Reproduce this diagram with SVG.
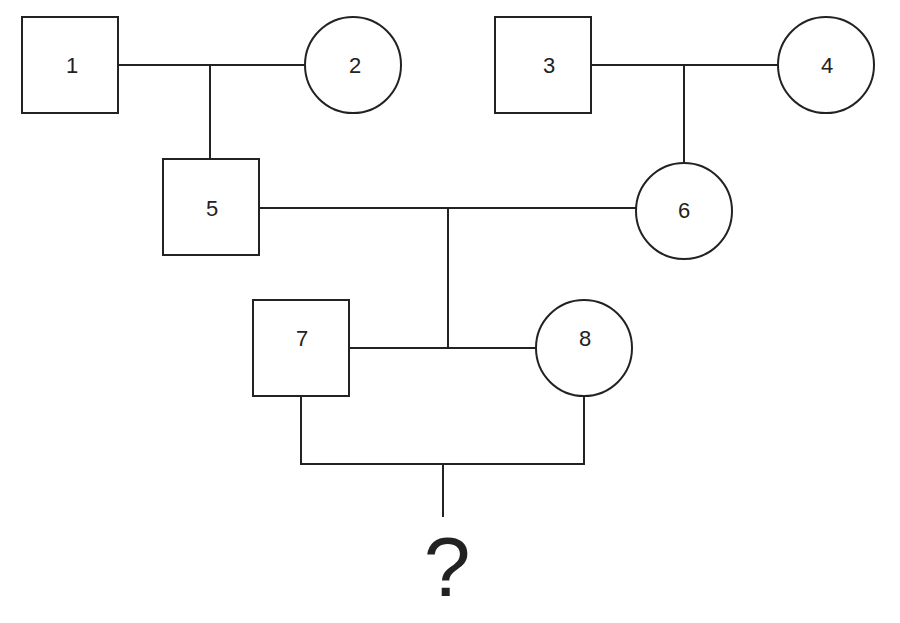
<svg xmlns="http://www.w3.org/2000/svg" width="900" height="623" viewBox="0 0 900 623">
<style>
.s{fill:#fff;stroke:#222;stroke-width:2}
.t{font-family:"Liberation Sans",Arial,sans-serif;font-size:22px;fill:#222;text-anchor:middle}
#c line{stroke:#222;stroke-width:2}
</style>
<rect width="900" height="623" fill="#fff"/>
<g id="c">
<line x1="118" y1="65" x2="305" y2="65"/><line x1="210" y1="65" x2="210" y2="159"/>
<line x1="591" y1="65" x2="778" y2="65"/><line x1="684" y1="65" x2="684" y2="163"/>
<line x1="259" y1="208" x2="636" y2="208"/><line x1="448" y1="208" x2="448" y2="348"/>
<line x1="349" y1="348" x2="536" y2="348"/>
<line x1="301" y1="396" x2="301" y2="464"/><line x1="584" y1="396" x2="584" y2="464"/>
<line x1="300" y1="464" x2="585" y2="464"/><line x1="443" y1="464" x2="443" y2="517"/>
</g>
<g id="n1"><rect class="s" x="22" y="17" width="96" height="96"/><text class="t" x="72" y="73">1</text></g>
<g id="n2"><circle class="s" cx="353" cy="65" r="48"/><text class="t" x="355" y="73">2</text></g>
<g id="n3"><rect class="s" x="495" y="17" width="96" height="96"/><text class="t" x="549" y="73">3</text></g>
<g id="n4"><circle class="s" cx="826" cy="65" r="48"/><text class="t" x="827" y="73">4</text></g>
<g id="n5"><rect class="s" x="163" y="159" width="96" height="96"/><text class="t" x="212" y="216">5</text></g>
<g id="n6"><circle class="s" cx="684" cy="211" r="48"/><text class="t" x="684" y="218">6</text></g>
<g id="n7"><rect class="s" x="253" y="300" width="96" height="96"/><text class="t" x="302" y="346">7</text></g>
<g id="n8"><circle class="s" cx="584" cy="348" r="48"/><text class="t" x="585" y="346">8</text></g>
<text class="t" x="447" y="596" style="font-size:84px">?</text>
</svg>
